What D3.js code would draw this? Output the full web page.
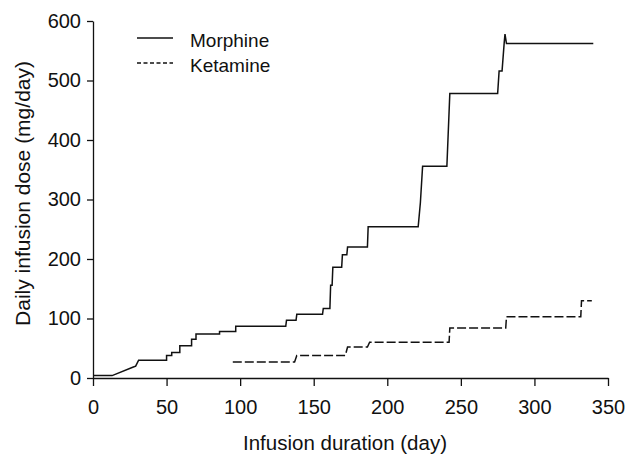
<!DOCTYPE html>
<html>
<head>
<meta charset="utf-8">
<script src="https://cdn.jsdelivr.net/npm/d3@7"></script>
<style>
  html, body { margin: 0; padding: 0; background: #fff; }
  svg { display: block; }
  text { font-family: "Liberation Sans", Arial, Helvetica, sans-serif; fill: #111; }
</style>
</head>
<body>
<svg id="chart" width="639" height="454"></svg>
<script>
// ---- data ----
const morphineDays = [0, 13, 27, 29, 31, 50, 50, 53.5, 53.5, 59, 59, 67, 67, 70, 70, 86, 86, 97, 97, 131, 131.5, 138, 138.5, 156, 156.5, 161, 161.5, 162.5, 163, 169, 169.5, 172.5, 173, 186.5, 187, 221, 222.5, 224, 240.5, 242.5, 275, 276, 278, 279.5, 280, 281, 340];
const morphineDose = [4, 4, 18, 20, 30, 30, 38, 38, 43, 43, 54, 54, 65, 65, 74, 74, 78, 78, 87, 87, 97, 97, 107, 107, 117, 117, 156, 156, 186, 186, 207, 207, 220, 220, 254, 254, 295, 356, 356, 478, 478, 516, 516, 565, 578, 562, 562];
const ketamineDays = [95, 137, 138.5, 171.5, 173, 186.5, 188, 242, 242.5, 280.5, 281, 331.5, 332, 339];
const ketamineDose = [27, 27, 38, 38, 52, 52, 60, 60, 84, 84, 103, 103, 130, 130];
const xTicks = [0, 50, 100, 150, 200, 250, 300, 350];
const yTicks = [0, 100, 200, 300, 400, 500, 600];
const seriesNames = ["Morphine", "Ketamine"];
const xTitle = "Infusion duration (day)";
const yTitle = "Daily infusion dose (mg/day)";

// ---- layout ----
const svg = d3.select("#chart");
const margin = {left: 93, right: 31, top: 21, bottom: 76};
const W = 639, H = 454;
const x = d3.scaleLinear().domain([0, 350]).range([margin.left, W - margin.right]);
const y = d3.scaleLinear().domain([0, 600]).range([H - margin.bottom, margin.top]);
const ink = "#111";

// axes
const gx = svg.append("g").attr("transform", `translate(0,${y(0)})`)
  .call(d3.axisBottom(x).tickValues(xTicks).tickSize(8).tickSizeOuter(0).tickPadding(14));
const gy = svg.append("g").attr("transform", `translate(${x(0)},0)`)
  .call(d3.axisLeft(y).tickValues(yTicks).tickSize(6).tickSizeOuter(0).tickPadding(6));
[gx, gy].forEach(g => {
  g.selectAll("path.domain").attr("stroke", ink).attr("stroke-width", 1.3);
  g.selectAll(".tick line").attr("stroke", ink).attr("stroke-width", 1.3);
  g.selectAll(".tick text").style("font-size", "20px").attr("fill", ink)
    .style("font-family", '"Liberation Sans", Arial, sans-serif');
});

// titles
svg.append("text").attr("x", 345).attr("y", 450).attr("text-anchor", "middle")
  .style("font-size", "20.5px").text(xTitle);
svg.append("text").attr("transform", `translate(30,193.5) rotate(-90)`).attr("text-anchor", "middle")
  .style("font-size", "21px").text(yTitle);

// lines
const line = d3.line().x(d => x(d[0])).y(d => y(d[1]));
const morphine = morphineDays.map((d, i) => [d, morphineDose[i]]);
const ketamine = ketamineDays.map((d, i) => [d, ketamineDose[i]]);

svg.append("path").datum(morphine).attr("d", line)
  .attr("fill", "none").attr("stroke", ink).attr("stroke-width", 1.5);
svg.append("path").datum(ketamine).attr("d", line)
  .attr("fill", "none").attr("stroke", ink).attr("stroke-width", 1.5)
  .attr("stroke-dasharray", "9,3");

// legend
const legend = svg.append("g");
const legY = [38, 63];
const dashes = [null, "4,2.5"];
seriesNames.forEach((name, i) => {
  legend.append("line").attr("x1", 137).attr("x2", 173).attr("y1", legY[i]).attr("y2", legY[i])
    .attr("stroke", ink).attr("stroke-width", 1.4)
    .attr("stroke-dasharray", dashes[i]);
  legend.append("text").attr("x", 190).attr("y", legY[i] + 8.5)
    .style("font-size", "19px").text(name);
});
</script>
</body>
</html>
